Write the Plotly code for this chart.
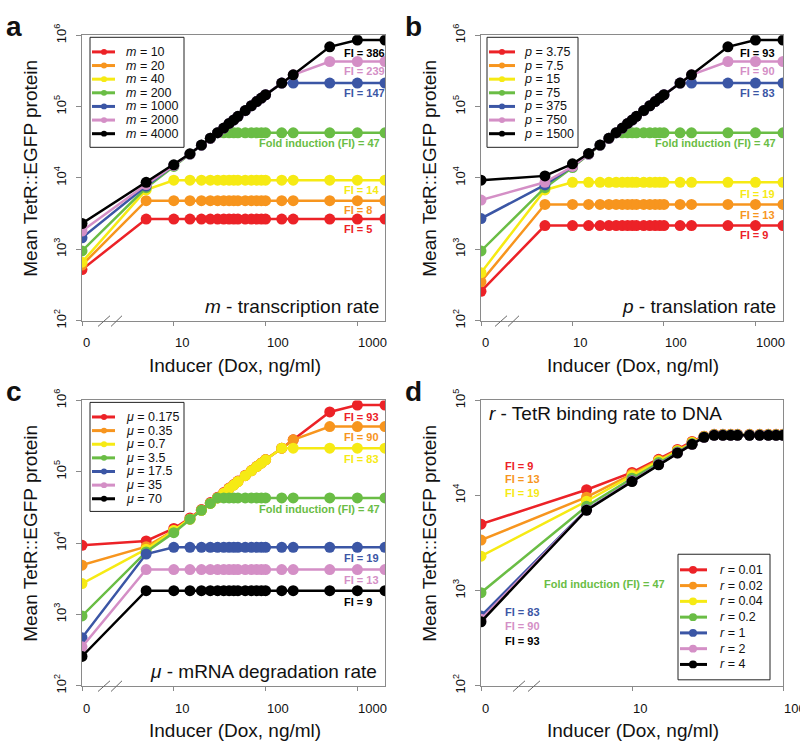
import math
import plotly.graph_objects as go

W, H = 800, 755
FONT = "Liberation Sans, Arial, Helvetica, sans-serif"
AX = "#8a8a8a"
TXT = "#111111"

# ------------------------------------------------------------------ data
doses = [0, 5, 10, 15, 20, 25, 30, 35, 40, 45, 50, 60, 70, 80, 90, 100, 150, 200, 500, 1000, 2000]
doses_d = [0, 5, 10, 15, 20, 25, 30, 35, 40, 45, 50, 60, 70, 80, 90, 100]

series_colors = ["#EC2227", "#F7951E", "#F6EA14", "#6ABD45", "#3B56A5", "#D48FC6", "#000000"]

m_labels = ["10", "20", "40", "200", "1000", "2000", "4000"]
p_labels = ["3.75", "7.5", "15", "75", "375", "750", "1500"]
mu_labels = ["0.175", "0.35", "0.7", "3.5", "17.5", "35", "70"]
r_labels = ["0.01", "0.02", "0.04", "0.2", "1", "2", "4"]

fi_a = [5, 8, 14, 47, 147, 239, 386]
fi_b = [9, 13, 19, 47, 83, 90, 93]
fi_c = [93, 90, 83, 47, 19, 13, 9]
fi_d = [9, 13, 19, 47, 83, 90, 93]

x_tick_vals = [0, 10, 100, 1000]
x_tick_vals_d = [0, 10, 100]
y_tick_exps = [2, 3, 4, 5, 6]
y_tick_exps_d = [2, 3, 4, 5]

# panel a (m - transcription rate)
a_m10 = [520, 2650, 2650, 2650, 2650, 2650, 2650, 2650, 2650, 2650, 2650, 2650, 2650, 2650, 2650, 2650, 2650, 2650, 2650, 2650, 2650]
a_m20 = [600, 4800, 4800, 4800, 4800, 4800, 4800, 4800, 4800, 4800, 4800, 4800, 4800, 4800, 4800, 4800, 4800, 4800, 4800, 4800, 4800]
a_m40 = [660, 6800, 9300, 9300, 9300, 9300, 9300, 9300, 9300, 9300, 9300, 9300, 9300, 9300, 9300, 9300, 9300, 9300, 9300, 9300, 9300]
a_m200 = [950, 7300, 14500, 21600, 28800, 36000, 43000, 43000, 43000, 43000, 43000, 43000, 43000, 43000, 43000, 43000, 43000, 43000, 43000, 43000, 43000]
a_m1000 = [1450, 7700, 15000, 21600, 28800, 36000, 43000, 50000, 58000, 65000, 73000, 88000, 103000, 118000, 132000, 147000, 214000, 214000, 214000, 214000, 214000]
a_m2000 = [1800, 8100, 15000, 21600, 28800, 36000, 43000, 50000, 58000, 65000, 73000, 88000, 103000, 118000, 132000, 147000, 214000, 280000, 430000, 430000, 430000]
a_m4000 = [2300, 8700, 15300, 21800, 29000, 36200, 43200, 50200, 58200, 65200, 73200, 88200, 103000, 118000, 132000, 147000, 214000, 280000, 690000, 860000, 860000]

# panel b (p - translation rate)
b_p1 = [257, 2150, 2150, 2150, 2150, 2150, 2150, 2150, 2150, 2150, 2150, 2150, 2150, 2150, 2150, 2150, 2150, 2150, 2150, 2150, 2150]
b_p2 = [350, 4250, 4250, 4250, 4250, 4250, 4250, 4250, 4250, 4250, 4250, 4250, 4250, 4250, 4250, 4250, 4250, 4250, 4250, 4250, 4250]
b_p3 = [470, 6800, 8700, 8700, 8700, 8700, 8700, 8700, 8700, 8700, 8700, 8700, 8700, 8700, 8700, 8700, 8700, 8700, 8700, 8700, 8700]
b_p4 = [950, 7300, 14000, 21600, 28800, 36000, 43000, 43000, 43000, 43000, 43000, 43000, 43000, 43000, 43000, 43000, 43000, 43000, 43000, 43000, 43000]
b_p5 = [2700, 8000, 14500, 21600, 28800, 36000, 43000, 50000, 58000, 65000, 73000, 88000, 103000, 118000, 132000, 147000, 214000, 214000, 214000, 214000, 214000]
b_p6 = [4900, 8700, 14500, 21600, 28800, 36000, 43000, 50000, 58000, 65000, 73000, 88000, 103000, 118000, 132000, 147000, 214000, 280000, 430000, 430000, 430000]
b_p7 = [9300, 10700, 15800, 22000, 29000, 36200, 43200, 50200, 58200, 65200, 73200, 88200, 103000, 118000, 132000, 147000, 214000, 280000, 690000, 860000, 860000]

# panel c (mu - mRNA degradation rate)
c_u1 = [9300, 10700, 16000, 22500, 29500, 37000, 44000, 51000, 59000, 66000, 74000, 89000, 104000, 119000, 133000, 148000, 214000, 280000, 690000, 860000, 860000]
c_u2 = [4900, 8900, 15000, 21600, 28800, 36000, 43000, 50000, 58000, 65000, 73000, 88000, 103000, 118000, 132000, 147000, 214000, 280000, 430000, 430000, 430000]
c_u3 = [2700, 8200, 15000, 21600, 28800, 36000, 43000, 50000, 58000, 65000, 73000, 88000, 103000, 118000, 132000, 147000, 214000, 214000, 214000, 214000, 214000]
c_u4 = [950, 7500, 14000, 21600, 28800, 36000, 43000, 43000, 43000, 43000, 43000, 43000, 43000, 43000, 43000, 43000, 43000, 43000, 43000, 43000, 43000]
c_u5 = [470, 7000, 8700, 8700, 8700, 8700, 8700, 8700, 8700, 8700, 8700, 8700, 8700, 8700, 8700, 8700, 8700, 8700, 8700, 8700, 8700]
c_u6 = [350, 4250, 4250, 4250, 4250, 4250, 4250, 4250, 4250, 4250, 4250, 4250, 4250, 4250, 4250, 4250, 4250, 4250, 4250, 4250, 4250]
c_u7 = [257, 2150, 2150, 2150, 2150, 2150, 2150, 2150, 2150, 2150, 2150, 2150, 2150, 2150, 2150, 2150, 2150, 2150, 2150, 2150, 2150]

# panel d (r - TetR binding rate to DNA)
d_r1 = [5000, 11500, 17500, 24000, 30500, 37000, 42000, 44000, 44000, 44000, 44000, 44000, 44000, 44000, 44000, 44000]
d_r2 = [3400, 9600, 16800, 23500, 30000, 36500, 41800, 43800, 43800, 43800, 43800, 43800, 43800, 43800, 43800, 43800]
d_r3 = [2300, 8700, 16200, 23000, 29500, 36000, 41600, 43600, 43600, 43600, 43600, 43600, 43600, 43600, 43600, 43600]
d_r4 = [950, 7700, 15200, 22200, 28800, 35200, 41300, 43400, 43400, 43400, 43400, 43400, 43400, 43400, 43400, 43400]
d_r5 = [540, 7100, 14300, 21300, 28200, 34700, 41100, 43200, 43200, 43200, 43200, 43200, 43200, 43200, 43200, 43200]
d_r6 = [500, 7050, 14200, 21200, 28100, 34600, 41000, 43100, 43100, 43100, 43100, 43100, 43100, 43100, 43100, 43100]
d_r7 = [470, 7000, 14000, 21000, 28000, 34500, 41000, 43000, 43000, 43000, 43000, 43000, 43000, 43000, 43000, 43000]


# ------------------------------------------------------------------ helpers
def PX(x):
    return x / W


def PY(y):
    return 1 - y / H


def pos(d):
    # dose 0 is drawn at 1 on the log axis (axis break)
    return d if d > 0 else 1


fig = go.Figure()
shapes = []
annotations = []

panels = [
    dict(s="", letter="a", box=(82, 24, 385, 317), doses=doses, xmax=2000, yexp=y_tick_exps,
         xticks=x_tick_vals,
         series=[a_m10, a_m20, a_m40, a_m200, a_m1000, a_m2000, a_m4000], labels=m_labels, var="m",
         title="<i>m</i> - transcription rate", title_pos=(381, 302, "right"),
         fi=fi_a,
         fi_pos=[(342, 223, "left"), (342, 203, "left"), (342, 183, "left"), (382, 135, "right"),
                 (342, 83, "left"), (342, 61, "left"), (342, 42, "left")],
         leg=dict(box=(90, 26, 184, 139), y0=41, dy=14, line=(92, 115), dot=104, r=3, tx=124),
         brk=[(98, 110), (111, 122)]),
    dict(s="2", letter="b", box=(481, 24, 783, 317), doses=doses, xmax=2000, yexp=y_tick_exps,
         xticks=x_tick_vals,
         series=[b_p1, b_p2, b_p3, b_p4, b_p5, b_p6, b_p7], labels=p_labels, var="p",
         title="<i>p</i> - translation rate", title_pos=(778, 302, "right"),
         fi=fi_b,
         fi_pos=[(738, 229, "left"), (738, 209, "left"), (738, 187, "left"), (778, 135, "right"),
                 (738, 83, "left"), (738, 61, "left"), (738, 42, "left")],
         leg=dict(box=(487, 26, 578, 139), y0=41, dy=14, line=(489, 515), dot=502, r=3, tx=522),
         brk=[(495, 507), (508, 519)]),
    dict(s="3", letter="c", box=(82, 399, 385, 692), doses=doses, xmax=2000, yexp=y_tick_exps,
         xticks=x_tick_vals,
         series=[c_u1, c_u2, c_u3, c_u4, c_u5, c_u6, c_u7], labels=mu_labels, var="μ",
         title="<i>μ</i> - mRNA degradation rate", title_pos=(379, 677, "right"),
         fi=fi_c,
         fi_pos=[(342, 416, "left"), (342, 437, "left"), (342, 459, "left"), (382, 511, "right"),
                 (342, 561, "left"), (342, 583, "left"), (342, 606, "left")],
         leg=dict(box=(90, 401, 184, 513), y0=416, dy=14, line=(92, 115), dot=104, r=3, tx=124),
         brk=[(98, 110), (111, 122)]),
    dict(s="4", letter="d", box=(481, 399, 783, 692), doses=doses_d, xmax=100, yexp=y_tick_exps_d,
         xticks=x_tick_vals_d,
         series=[d_r1, d_r2, d_r3, d_r4, d_r5, d_r6, d_r7], labels=r_labels, var="r",
         title="<i>r</i> - TetR binding rate to DNA", title_pos=(487, 412, "left"),
         fi=fi_d,
         fi_pos=[(503, 466, "left"), (503, 480, "left"), (503, 494, "left"), (542, 588, "left"),
                 (503, 616, "left"), (503, 631, "left"), (503, 646, "left")],
         leg=dict(box=(678, 557, 770, 686), y0=573, dy=16.2, line=(680, 707), dot=693, r=4, tx=718),
         brk=[(513, 525), (528, 540)]),
]

layout_axes = {}
for P in panels:
    s = P["s"]
    x0, y0, x1, y1 = P["box"]
    xname, yname = "x" + s, "y" + s
    layout_axes["xaxis" + s] = dict(
        domain=[PX(x0), PX(x1)], type="log", range=[0, math.log10(P["xmax"])],
        tickvals=[pos(v) for v in P["xticks"]], showticklabels=False,
        ticks="outside", ticklen=4, tickcolor=AX, tickwidth=1,
        showline=True, linecolor=AX, linewidth=1, mirror=True,
        showgrid=False, zeroline=False, anchor=yname, fixedrange=True)
    layout_axes["yaxis" + s] = dict(
        domain=[PY(y1), PY(y0)], type="log", range=[P["yexp"][0], P["yexp"][-1]],
        tickvals=[10 ** e for e in P["yexp"]],
        ticktext=["10<sup>%d</sup>" % e for e in P["yexp"]],
        tickangle=-90, tickfont=dict(family=FONT, size=13, color=TXT),
        ticklabelstandoff=5,
        ticks="outside", ticklen=5, tickcolor=AX, tickwidth=1,
        showline=True, linecolor=AX, linewidth=1, mirror=True,
        showgrid=False, zeroline=False, anchor=xname, fixedrange=True)

    xs = [pos(d) for d in P["doses"]]
    for vals, col, lab in zip(P["series"], series_colors, P["labels"]):
        fig.add_trace(go.Scatter(
            x=xs, y=vals, mode="lines+markers", xaxis=xname, yaxis=yname,
            line=dict(color=col, width=2.5), marker=dict(color=col, size=11),
            name="%s = %s" % (P["var"], lab), showlegend=False, cliponaxis=True))

    # x tick labels (left-aligned at the tick like the original)
    for v in P["xticks"]:
        annotations.append(dict(
            x=math.log10(pos(v)), xref=xname, y=PY(y1 + 23), yref="paper",
            text=str(v), showarrow=False, xanchor="left", yanchor="middle", xshift=-1,
            font=dict(family=FONT, size=13, color=TXT)))

    # axis titles
    annotations.append(dict(
        x=PX((x0 + x1) / 2 + 1), y=PY(y1 + 46), xref="paper", yref="paper",
        text="Inducer (Dox, ng/ml)", showarrow=False, xanchor="center", yanchor="middle",
        font=dict(family=FONT, size=19, color=TXT)))
    annotations.append(dict(
        x=PX(x0 - 51), y=PY(y0 + 137), xref="paper", yref="paper",
        text="Mean TetR::EGFP protein", showarrow=False, textangle=-90,
        xanchor="center", yanchor="middle",
        font=dict(family=FONT, size=19, color=TXT)))

    # panel letter
    annotations.append(dict(
        x=PX(x0 - 78), y=PY(y0 - 9), xref="paper", yref="paper",
        text="<b>%s</b>" % P["letter"], showarrow=False, xanchor="left", yanchor="middle",
        font=dict(family=FONT, size=28, color=TXT)))

    # inner title
    tx, ty, ta = P["title_pos"]
    annotations.append(dict(
        x=PX(tx), y=PY(ty), xref="paper", yref="paper", text=P["title"], showarrow=False,
        xanchor=ta, yanchor="middle", font=dict(family=FONT, size=19, color=TXT)))

    # fold-induction labels
    for fi, col, (fx, fy, fa) in zip(P["fi"], series_colors, P["fi_pos"]):
        txt = "Fold induction (FI) = %d" % fi if fi == 47 else "FI = %d" % fi
        annotations.append(dict(
            x=PX(fx), y=PY(fy), xref="paper", yref="paper", text="<b>%s</b>" % txt,
            showarrow=False, xanchor=fa, yanchor="middle",
            font=dict(family=FONT, size=11, color=col)))

    # axis break marks
    for bx0, bx1 in P["brk"]:
        shapes.append(dict(type="line", xref="paper", yref="paper",
                           x0=PX(bx0), y0=PY(y1 + 6), x1=PX(bx1), y1=PY(y1 - 5),
                           line=dict(color="#666666", width=1)))

    # legend
    L = P["leg"]
    lx0, ly0, lx1, ly1 = L["box"]
    shapes.append(dict(type="rect", xref="paper", yref="paper",
                       x0=PX(lx0), y0=PY(ly0), x1=PX(lx1), y1=PY(ly1),
                       line=dict(color="#222222", width=1), fillcolor="white", layer="above"))
    for i, (col, lab) in enumerate(zip(series_colors, P["labels"])):
        yy = L["y0"] + i * L["dy"]
        shapes.append(dict(type="line", xref="paper", yref="paper",
                           x0=PX(L["line"][0]), y0=PY(yy), x1=PX(L["line"][1]), y1=PY(yy),
                           line=dict(color=col, width=3)))
        r = L["r"]
        shapes.append(dict(type="circle", xref="paper", yref="paper",
                           x0=PX(L["dot"] - r), y0=PY(yy - r), x1=PX(L["dot"] + r), y1=PY(yy + r),
                           line=dict(color=col, width=0), fillcolor=col))
        annotations.append(dict(
            x=PX(L["tx"]), y=PY(yy), xref="paper", yref="paper",
            text="<i>%s</i> = %s" % (P["var"], lab), showarrow=False,
            xanchor="left", yanchor="middle", font=dict(family=FONT, size=12.5, color=TXT)))

fig.update_layout(
    width=W, height=H, margin=dict(l=0, r=0, t=0, b=0),
    paper_bgcolor="white", plot_bgcolor="white", showlegend=False,
    font=dict(family=FONT, color=TXT),
    shapes=shapes, annotations=annotations, **layout_axes)

fig.write_html("out.html", config={"displayModeBar": False},
               post_script="document.body.style.margin='0';document.body.style.overflow='hidden';")
